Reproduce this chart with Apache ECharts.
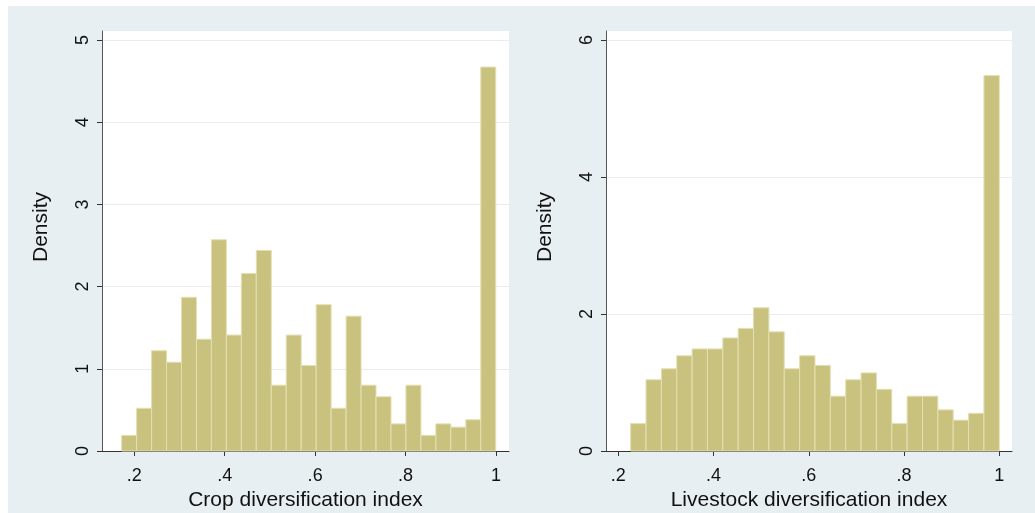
<!DOCTYPE html>
<html>
<head>
<meta charset="utf-8">
<script src="https://cdn.jsdelivr.net/npm/echarts@6/dist/echarts.min.js"></script>
<style>
html,body{margin:0;padding:0;background:#fff;}
#chart{width:1035px;height:513px;}
</style>
</head>
<body>
<div id="chart"></div>
<script>
// ---- data ----
var cropBinStart = 0.172;
var cropBinWidth = 0.0331;
var cropDensity = [0.19, 0.52, 1.22, 1.08, 1.87, 1.36, 2.57, 1.41, 2.16, 2.44, 0.80, 1.41, 1.04, 1.78, 0.52, 1.64, 0.80, 0.66, 0.33, 0.80, 0.19, 0.33, 0.29, 0.38, 4.67];
var liveBinStart = 0.226;
var liveBinWidth = 0.03225;
var liveDensity = [0.40, 1.04, 1.20, 1.39, 1.49, 1.49, 1.65, 1.79, 2.09, 1.74, 1.20, 1.39, 1.25, 0.80, 1.04, 1.14, 0.90, 0.40, 0.80, 0.80, 0.60, 0.45, 0.55, 5.48];
var xTicks = [0.2, 0.4, 0.6, 0.8, 1];
var xTickLabels = ['.2', '.4', '.6', '.8', '1'];
var cropYTicks = [0, 1, 2, 3, 4, 5];
var liveYTicks = [0, 2, 4, 6];
var xTitles = ['Crop diversification index', 'Livestock diversification index'];
var yTitle = 'Density';

function bins(start, width, heights) {
  return heights.map(function (h, i) {
    return [start + i * width, start + (i + 1) * width, h];
  });
}

var FONT = 'Liberation Sans, Arial, sans-serif';
var barFill = '#c9c27e';
var barEdge = '#e4dfb2';

function renderBar(params, api) {
  var p0 = api.coord([api.value(0), api.value(2)]);
  var p1 = api.coord([api.value(1), 0]);
  return {
    type: 'rect',
    shape: { x: p0[0], y: p0[1], width: p1[0] - p0[0], height: p1[1] - p0[1] },
    style: { fill: barFill, stroke: barEdge, lineWidth: 1 }
  };
}

function xAxis(idx, min, max) {
  return {
    gridIndex: idx, type: 'value', min: min, max: max,
    name: xTitles[idx], nameLocation: 'middle', nameGap: 34,
    nameTextStyle: { fontFamily: FONT, fontSize: 21, color: '#111' },
    axisLine: { show: true, onZero: false, lineStyle: { color: '#333', width: 1 } },
    axisTick: { show: true, length: 5, customValues: xTicks, lineStyle: { color: '#333' } },
    axisLabel: {
      customValues: xTicks, fontFamily: FONT, fontSize: 18, color: '#111', margin: 16,
      formatter: function (v) { var i = xTicks.indexOf(+v.toFixed(4)); return i >= 0 ? xTickLabels[i] : ''; }
    },
    splitLine: { show: false }
  };
}

function yAxis(idx, max, ticks) {
  return {
    gridIndex: idx, type: 'value', min: 0, max: max,
    name: yTitle, nameLocation: 'middle', nameGap: 50, nameRotate: 90,
    nameTextStyle: { fontFamily: FONT, fontSize: 21, color: '#111', padding: [0, 0, 0, 28] },
    axisLine: { show: true, lineStyle: { color: '#555', width: 1 } },
    axisTick: { show: true, length: 5, customValues: ticks, lineStyle: { color: '#333' } },
    axisLabel: { customValues: ticks, rotate: 90, fontFamily: FONT, fontSize: 18, color: '#111', margin: 10 },
    splitLine: { show: true, lineStyle: { color: '#e6eef2', width: 1 } }
  };
}

var chart = echarts.init(document.getElementById('chart'), null, { renderer: 'canvas' });
chart.setOption({
  backgroundColor: '#ffffff',
  animation: false,
  graphic: [{
    type: 'rect', z: -10, silent: true,
    shape: { x: 8, y: 6, width: 1027, height: 507 },
    style: { fill: '#e8eff2' }
  }],
  grid: [
    { left: 102, top: 31, width: 407, height: 420, show: true, backgroundColor: '#ffffff', borderWidth: 0, containLabel: false, outerBoundsMode: 'none' },
    { left: 606, top: 31, width: 406, height: 420, show: true, backgroundColor: '#ffffff', borderWidth: 0, containLabel: false, outerBoundsMode: 'none' }
  ],
  xAxis: [xAxis(0, 0.1286, 1.0288), xAxis(1, 0.1742, 1.0267)],
  yAxis: [yAxis(0, 5.109, cropYTicks), yAxis(1, 6.131, liveYTicks)],
  series: [
    { type: 'custom', xAxisIndex: 0, yAxisIndex: 0, renderItem: renderBar, encode: { x: [0, 1], y: 2 }, data: bins(cropBinStart, cropBinWidth, cropDensity) },
    { type: 'custom', xAxisIndex: 1, yAxisIndex: 1, renderItem: renderBar, encode: { x: [0, 1], y: 2 }, data: bins(liveBinStart, liveBinWidth, liveDensity) }
  ]
});
</script>
</body>
</html>
